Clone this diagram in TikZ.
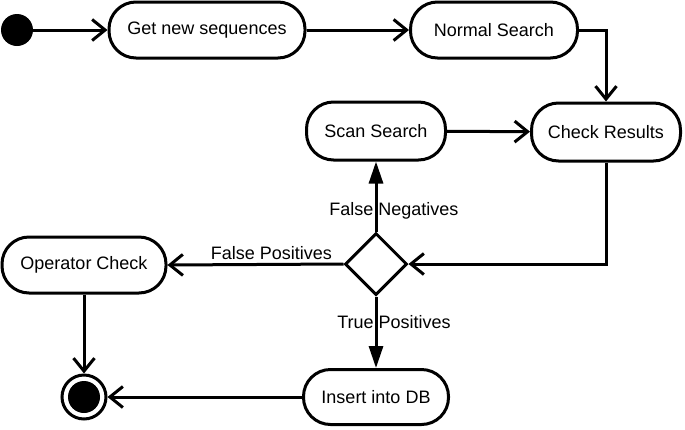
\documentclass[tikz,border=0pt]{standalone}
\usepackage{fontspec}
\setmainfont{Liberation Sans}
\usetikzlibrary{arrows.meta,shapes.geometric}
\begin{document}
\begin{tikzpicture}[x=1pt,y=-1pt,
  act/.style={draw, line width=3pt, rectangle, rounded corners=27pt, minimum height=56pt, inner sep=0pt, font=\fontsize{18}{20}\selectfont},
  conn/.style={line width=3pt},
  openarr/.style={-{Straight Barb[length=13pt,width=21pt]}},
  fillarr/.style={-{Triangle[length=22pt,width=14pt]}},
  lbl/.style={font=\fontsize{18}{20}\selectfont, inner sep=1pt},
  decision/.style={draw, diamond, line width=3pt, minimum width=62pt, minimum height=62pt, inner sep=0pt}
]
\useasboundingbox (0,0) rectangle (685,429);
\node[circle, fill=black, minimum size=32pt, inner sep=0pt] (start) at (17,30) {};
\node[act, minimum width=196pt] (get) at (207,30) {Get new sequences};
\node[act, minimum width=167pt] (normal) at (494,30) {Normal Search};
\node[act, minimum width=149pt, minimum height=58pt] (check) at (606,132) {Check Results};
\node[act, minimum width=139pt, minimum height=58pt] (scan) at (376,131) {Scan Search};
\node[decision] (d) at (376,264) {};
\node[act, minimum width=164pt] (op) at (84,265) {Operator Check};
\node[act, minimum width=145pt, minimum height=55pt] (ins) at (376,397) {Insert into DB};
\node[circle, draw, line width=3pt, minimum size=44pt, inner sep=0pt] (end) at (84,397) {};
\fill (end.center) circle (16pt);

\draw[conn, openarr] (start) -- (get);
\draw[conn, openarr] (get) -- (normal);
\draw[conn, openarr] (normal.east) -| (check.north);
\draw[conn, openarr] (scan) -- (check);
\draw[conn, openarr] (check.south) |- (d.east);
\draw[conn, fillarr] (d.north) -- node[lbl, pos=0.3, xshift=18pt] {False Negatives} (scan.south);
\draw[conn, openarr] (d.west) -- node[lbl, pos=0.41, yshift=11pt] {False Positives} (op.east);
\draw[conn, fillarr] (d.south) -- node[lbl, pos=0.36, xshift=18pt] {True Positives} (ins.north);
\draw[conn, openarr] (op.south) -- (end.north);
\draw[conn, openarr] (ins.west) -- (end.east);
\end{tikzpicture}
\end{document}
